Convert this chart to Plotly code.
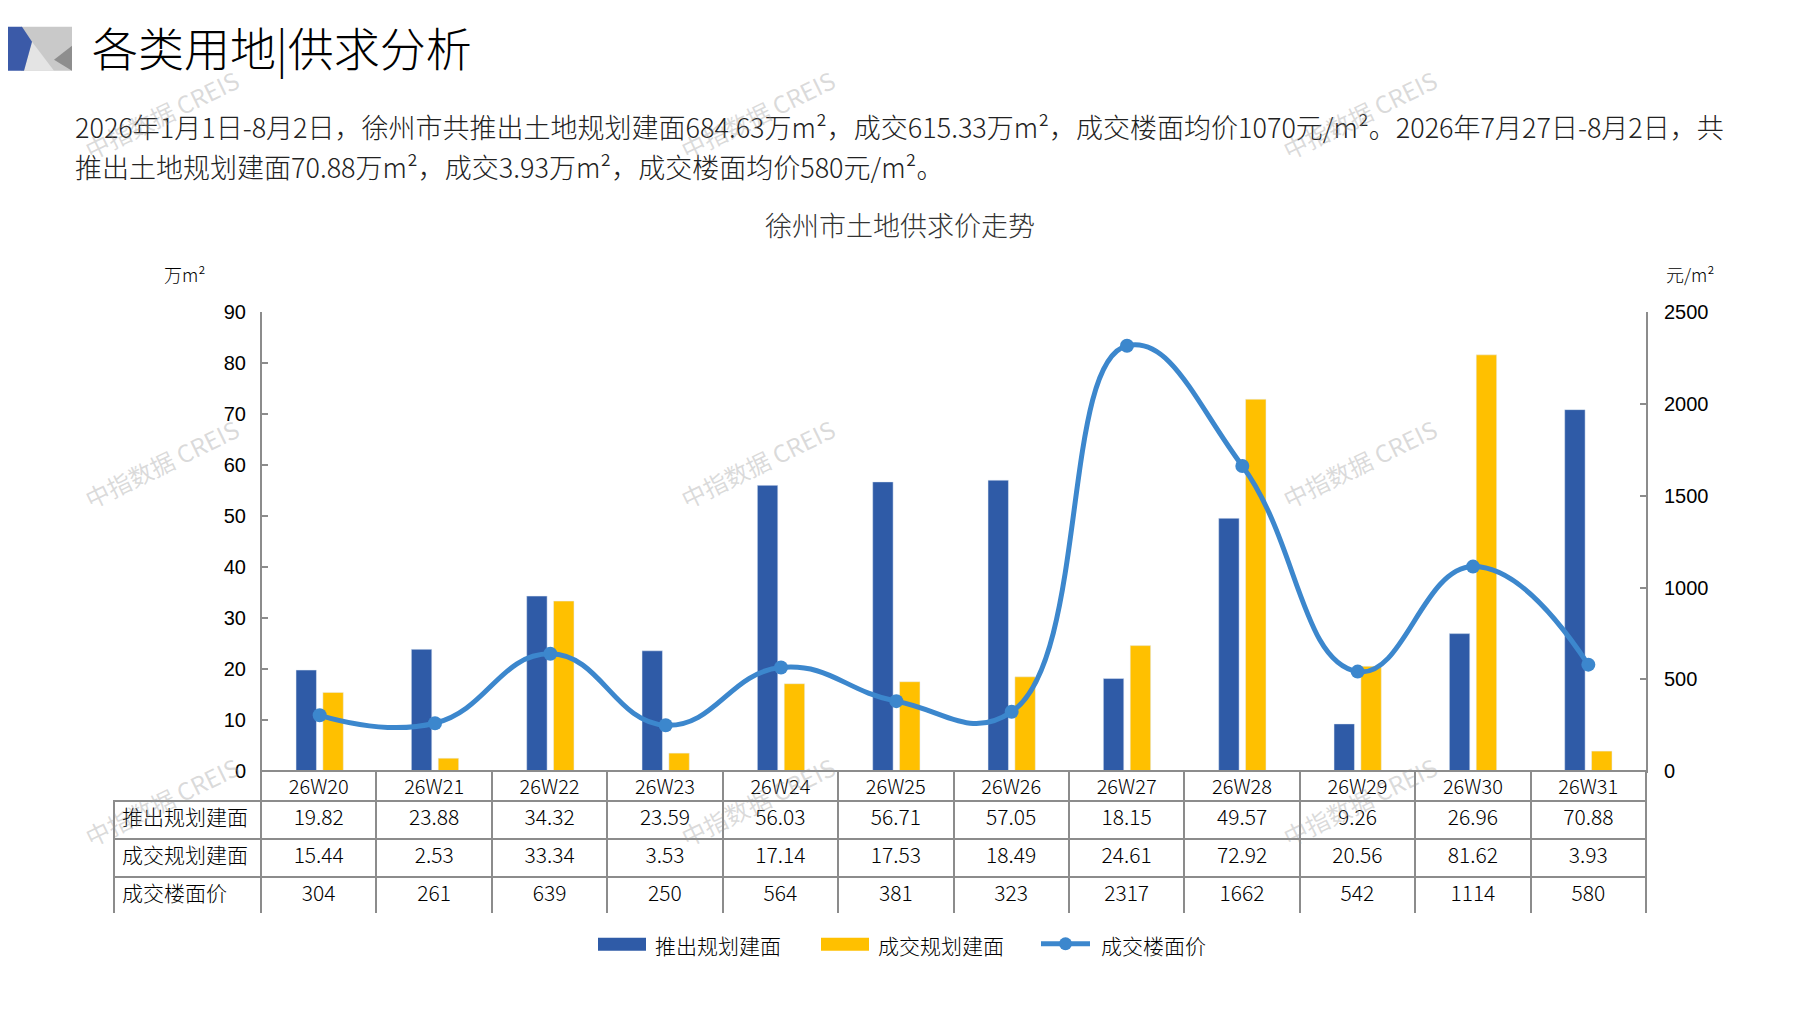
import plotly.graph_objects as go

# page is 1797x1010; the browser body keeps an 8px margin, so the figure is
# sized to fit inside it and positions below are given in page pixels
W, H = 1797, 1010
M = 8
FW, FH = W - 2 * M, H - 2 * M
# measured vertical drift of the captured page (offset, scale)
VY0, VK = 11.4, 0.98

weeks = ['26W20', '26W21', '26W22', '26W23', '26W24', '26W25',
         '26W26', '26W27', '26W28', '26W29', '26W30', '26W31']
supply = [19.82, 23.88, 34.32, 23.59, 56.03, 56.71, 57.05, 18.15, 49.57, 9.26, 26.96, 70.88]
deal = [15.44, 2.53, 33.34, 3.53, 17.14, 17.53, 18.49, 24.61, 72.92, 20.56, 81.62, 3.93]
price = [304, 261, 639, 250, 564, 381, 323, 2317, 1662, 542, 1114, 580]
row_names = ['推出规划建面', '成交规划建面', '成交楼面价']

left_ticks = list(range(0, 100, 10))
right_ticks = list(range(0, 3000, 500))

BLUE = '#2F5BA7'
YELLOW = '#FFC000'
LINE = '#3C87CD'
GREY = '#8C8C8C'
CJK = 'Noto Sans CJK SC'
NUM = 'Liberation Sans, Arial'
CLEAR = 'rgba(0,0,0,0)'


def px(x):
    return (x - M) / FW


def py(y):
    return 1 - ((y - VY0) / VK - M) / FH


def cjk(size, color='black'):
    return dict(family=CJK, size=size, color=color, weight=300)


fig = go.Figure()

fig.add_trace(go.Bar(x=weeks, y=supply, name=row_names[0], marker_color=BLUE))
fig.add_trace(go.Bar(x=weeks, y=deal, name=row_names[1], marker_color=YELLOW))
fig.add_trace(go.Scatter(x=weeks, y=price, name=row_names[2], yaxis='y2',
                         mode='lines+markers',
                         line=dict(color=LINE, width=5, shape='spline', smoothing=1.3),
                         marker=dict(size=14, color=LINE)))

# data table under the chart
header_vals = [''] + weeks
cell_vals = [row_names] + [[f'{s:.2f}', f'{d:.2f}', str(p)]
                           for s, d, p in zip(supply, deal, price)]
fig.add_trace(go.Table(
    domain=dict(x=[px(114), px(1646)], y=[py(916), py(773)]),
    columnwidth=[147] + [115.4] * 12,
    header=dict(values=header_vals, height=30, fill_color=[CLEAR] + ['white'] * 12,
                line=dict(color=[CLEAR] + [GREY] * 12, width=2),
                font=cjk(20), align='center'),
    cells=dict(values=cell_vals, height=38, fill_color='white',
               line=dict(color=GREY, width=2),
               font=cjk(21), align=['left'] + ['center'] * 12),
))

axis_style = dict(showgrid=False, zeroline=False, showline=True, linecolor=GREY,
                  linewidth=2, ticks='inside', ticklen=6, tickcolor=GREY, tickwidth=2,
                  tickfont=dict(family=NUM, size=20, color='black'))

fig.update_layout(
    width=FW, height=FH,
    margin=dict(l=0, r=0, t=0, b=0),
    paper_bgcolor='white', plot_bgcolor='white',
    showlegend=False,
    barmode='group', bargap=0.534, bargroupgap=0.24,
    xaxis=dict(domain=[px(262), px(1646)], range=[-0.5, 11.5], showticklabels=False,
               showgrid=False, zeroline=False, showline=True, linecolor=GREY,
               linewidth=2, ticks=''),
    yaxis=dict(domain=[py(773), py(313)], range=[0, 90], tickvals=left_ticks,
               ticklabelstandoff=10, **axis_style),
    yaxis2=dict(overlaying='y', side='right', range=[0, 2500], tickvals=right_ticks,
                ticklabelstandoff=12, **axis_style),
)

summary1 = ('2026年1月1日-8月2日，徐州市共推出土地规划建面684.63万m²，成交615.33万m²，'
            '成交楼面均价1070元/m²。2026年7月27日-8月2日，共')
summary2 = '推出土地规划建面70.88万m²，成交3.93万m²，成交楼面均价580元/m²。'

annos = [
    dict(x=px(90), y=py(46), text='各类用地|供求分析', xanchor='left', yanchor='middle',
         font=cjk(46)),
    dict(x=px(73), y=py(127), text=summary1, xanchor='left', yanchor='middle',
         font=cjk(27, '#222222')),
    dict(x=px(73), y=py(167), text=summary2, xanchor='left', yanchor='middle',
         font=cjk(27, '#222222')),
    dict(x=px(900), y=py(225), text='徐州市土地供求价走势', xanchor='center', yanchor='middle',
         font=cjk(27, '#333333')),
    dict(x=px(185), y=py(275), text='万m²', xanchor='center', yanchor='middle',
         font=cjk(18)),
    dict(x=px(1690), y=py(275), text='元/m²', xanchor='center', yanchor='middle',
         font=cjk(18)),
    dict(x=px(653), y=py(947), text=row_names[0], xanchor='left', yanchor='middle',
         font=cjk(21)),
    dict(x=px(876), y=py(947), text=row_names[1], xanchor='left', yanchor='middle',
         font=cjk(21)),
    dict(x=px(1099), y=py(947), text=row_names[2], xanchor='left', yanchor='middle',
         font=cjk(21)),
]

# watermarks
for wx in (161, 757, 1359):
    for wy in (115, 465, 803):
        annos.append(dict(x=px(wx), y=py(wy), text='中指数据 CREIS', textangle=-26,
                          xanchor='center', yanchor='middle',
                          font=dict(family=CJK, size=24, color='rgba(150,150,150,0.35)')))

for a in annos:
    a.update(xref='paper', yref='paper', showarrow=False)
fig.update_layout(annotations=annos)


def path(pts):
    return 'M' + ' L'.join(f'{px(x)},{py(y)}' for x, y in pts) + ' Z'


shapes = [
    # header logo
    dict(type='path', path=path([(21, 27), (72, 27), (72, 71), (21, 71)]),
         fillcolor='#C9C9C9', line=dict(width=0)),
    dict(type='path', path=path([(24, 71), (32, 42), (54, 71)]),
         fillcolor='#E4E4E4', line=dict(width=0)),
    dict(type='path', path=path([(72, 46), (54, 60), (72, 71)]),
         fillcolor='#8E8E8E', line=dict(width=0)),
    dict(type='path', path=path([(0, 27), (22, 27), (32, 42), (24, 71), (0, 71)]),
         fillcolor='#3B5AA8', line=dict(width=0)),
    # legend swatches
    dict(type='rect', x0=px(598), x1=px(646), y0=py(953), y1=py(940),
         fillcolor=BLUE, line=dict(width=0)),
    dict(type='rect', x0=px(821), x1=px(869), y0=py(953), y1=py(940),
         fillcolor=YELLOW, line=dict(width=0)),
    dict(type='line', x0=px(1041), x1=px(1090), y0=py(946), y1=py(946),
         line=dict(color=LINE, width=5)),
    dict(type='circle', x0=px(1059), x1=px(1072), y0=py(952.5), y1=py(939.5),
         fillcolor=LINE, line=dict(width=0)),
]
for s in shapes:
    s.update(xref='paper', yref='paper')
fig.update_layout(shapes=shapes)

fig.write_html("out.html")
